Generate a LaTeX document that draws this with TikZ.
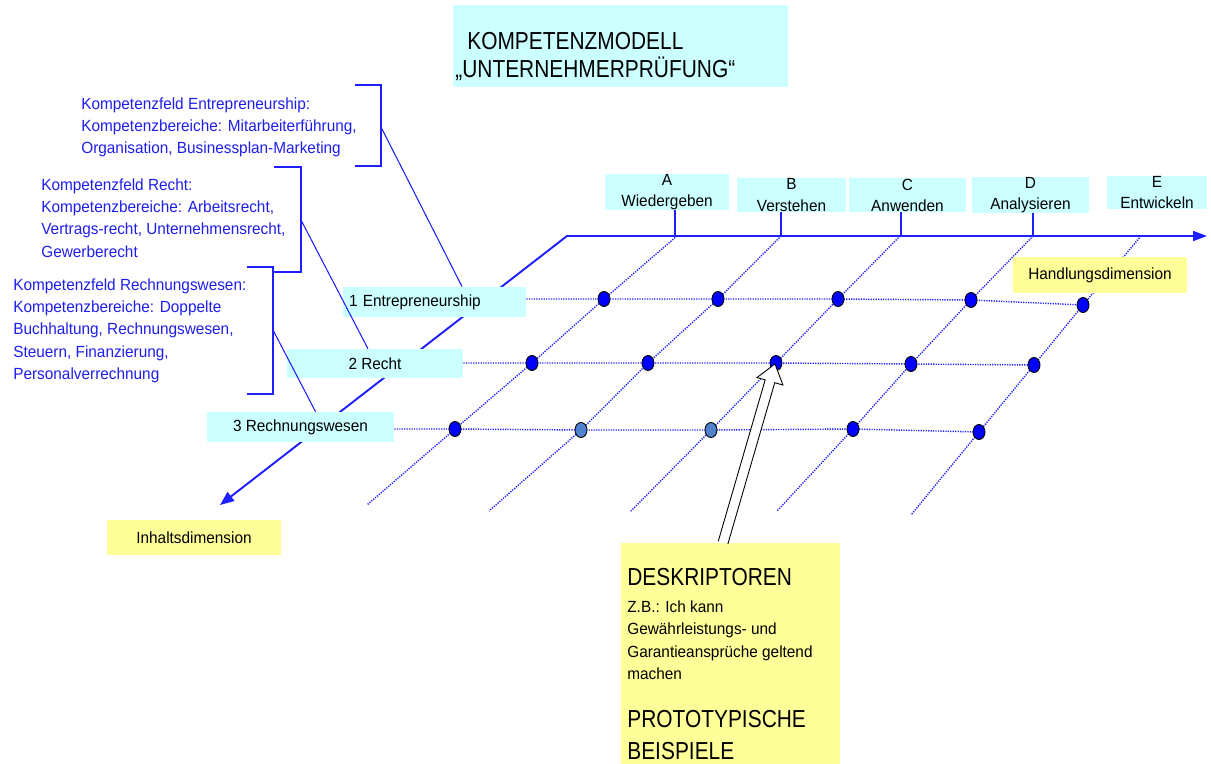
\documentclass[tikz,border=0pt]{standalone}
\usepackage{fontspec}
\setmainfont[FakeStretch=0.95]{Liberation Sans}
\newfontfamily\bigfont[FakeStretch=0.85]{Liberation Sans}
\usetikzlibrary{arrows.meta,calc,shapes.geometric}
\pgfdeclarelayer{bg}
\pgfsetlayers{bg,main}

\definecolor{boxcyan}{RGB}{204,255,255}
\definecolor{boxyellow}{RGB}{255,255,153}
\definecolor{lineblue}{RGB}{30,30,255}
\definecolor{dotlight}{RGB}{80,130,205}
\definecolor{textblue}{RGB}{30,30,235}

\begin{document}
\begin{tikzpicture}[x=0.02cm,y=-0.02cm,
  font=\fontsize{9.2}{12}\selectfont,
  cbox/.style={fill=boxcyan,inner sep=0pt,align=center},
  ybox/.style={fill=boxyellow,inner sep=0pt,align=center},
  dot/.style={ellipse,draw=black,line width=0.5pt,fill=blue,minimum width=0.24cm,minimum height=0.3cm,inner sep=0pt},
  grid/.style={lineblue,line width=0.8pt,dash pattern=on 0.7pt off 0.7pt},
  axis/.style={lineblue,line width=1.1pt},
  tick/.style={lineblue,line width=0.9pt},
  bracket/.style={lineblue,line width=0.9pt},
  link/.style={lineblue,line width=0.6pt},
  blocktext/.style={textblue,align=left,anchor=north west,inner sep=0pt,font=\fontsize{9.2}{12.7}\selectfont},
  bigtext/.style={anchor=north west,inner sep=0pt,align=left,font=\bigfont\fontsize{14}{15.9}\selectfont}]

  \useasboundingbox (0,0) rectangle (1211,764);

  \node[cbox,minimum width=6.7cm,minimum height=1.64cm] (title) at (620.5,46) {};
  \node[bigtext] (titletext) at (455,32) {\hspace*{0.24cm}KOMPETENZMODELL\\„UNTERNEHMERPRÜFUNG“};

  \node[cbox,minimum width=2.48cm,minimum height=0.6cm] (colA) at (667,192) {A\\Wiedergeben};
  \node[cbox,minimum width=2.18cm,minimum height=0.68cm] (colB) at (791.5,195) {B\\Verstehen};
  \node[cbox,minimum width=2.34cm,minimum height=0.68cm] (colC) at (907.5,195) {C\\Anwenden};
  \node[cbox,minimum width=2.34cm,minimum height=0.68cm] (colD) at (1030.5,195) {D\\Analysieren};
  \node[cbox,minimum width=2cm,minimum height=0.58cm] (colE) at (1157,192.5) {E\\Entwickeln};

  \node[cbox,minimum width=3.66cm,minimum height=0.6cm,text width=3.42cm,align=left] (row1) at (434.5,302) {1 Entrepreneurship};
  \node[cbox,minimum width=3.52cm,minimum height=0.58cm] (row2) at (375,363.5) {2 Recht};
  \node[cbox,minimum width=3.74cm,minimum height=0.6cm] (row3) at (300.5,427) {3 Rechnungswesen};

  \node[blocktext] (fieldE) at (81,97) {Kompetenzfeld Entrepreneurship:\\Kompetenzbereiche: Mitarbeiterführung,\\Organisation, Businessplan-Marketing};
  \node[blocktext] (fieldR) at (41,178) {Kompetenzfeld Recht:\\Kompetenzbereiche: Arbeitsrecht,\\Vertrags-recht, Unternehmensrecht,\\Gewerberecht};
  \node[blocktext] (fieldRW) at (13,278) {Kompetenzfeld Rechnungswesen:\\Kompetenzbereiche: Doppelte\\Buchhaltung, Rechnungswesen,\\Steuern, Finanzierung,\\Personalverrechnung};

  \draw[bracket] (355,85) -- (381,85) -- (381,166) -- (355,166);
  \draw[bracket] (274,167) -- (301,167) -- (301,272) -- (273,272);
  \draw[bracket] (247,267) -- (273,267) -- (273,394) -- (247,394);
  \coordinate (bE) at (381,127);
  \coordinate (bR) at (301,220);
  \coordinate (bRW) at (273,330);
  \draw[link] (bE) -- ($(row1.north west)!0.65!(row1.north east)$);
  \draw[link] (bR) -- ($(row2.north west)!0.46!(row2.north east)$);
  \draw[link] (bRW) -- ($(row3.north west)!0.58!(row3.north east)$);

  \node[dot] (dA1) at (604,299) {};
  \node[dot] (dB1) at (718,299) {};
  \node[dot] (dC1) at (838,299) {};
  \node[dot] (dD1) at (971,300) {};
  \node[dot] (dE1) at (1083,305) {};
  \node[dot] (dA2) at (532,363) {};
  \node[dot] (dB2) at (648,363) {};
  \node[dot] (dC2) at (776,363) {};
  \node[dot] (dD2) at (911,364) {};
  \node[dot] (dE2) at (1034,365) {};
  \node[dot] (dA3) at (455,429) {};
  \node[dot,fill=dotlight] (dB3) at (581,430) {};
  \node[dot,fill=dotlight] (dC3) at (711,430) {};
  \node[dot] (dD3) at (853,429) {};
  \node[dot] (dE3) at (979,432) {};

  \node[ybox,minimum width=3.48cm,minimum height=0.72cm] (hdim) at (1100,275) {Handlungsdimension};
  \node[ybox,minimum width=3.48cm,minimum height=0.7cm] (idim) at (194,537.5) {Inhaltsdimension};

  \node[ybox,minimum width=4.38cm,minimum height=4.42cm] (desk) at (730.5,653.5) {};
  \node[bigtext] (deskhead) at (627,568) {DESKRIPTOREN};
  \node[anchor=north west,inner sep=0pt,align=left,font=\fontsize{9.2}{12.8}\selectfont] (deskex) at (627,600) {Z.B.: Ich kann\\Gewährleistungs- und\\Garantieansprüche geltend\\machen};
  \node[bigtext,font=\bigfont\fontsize{14}{18.1}\selectfont] (deskproto) at (627,710) {PROTOTYPISCHE\\BEISPIELE};

  \coordinate (O) at (567,236);
  \coordinate (hEnd) at (1207,236);
  \coordinate (iEnd) at (220,505);
  \coordinate (topA) at (677,236);
  \coordinate (topB) at (781,236);
  \coordinate (topC) at (900,236);
  \coordinate (topD) at (1033,236);
  \coordinate (topE) at (1141,236);
  \coordinate (botA) at (367,505);
  \coordinate (botB) at (489,511);
  \coordinate (botC) at (630,512);
  \coordinate (botD) at (777,511);
  \coordinate (botE) at (911,515);
  \coordinate (tA) at (675,236);
  \coordinate (tB) at (781,236);
  \coordinate (tC) at (901,236);
  \coordinate (tD) at (1033,236);

  \begin{pgfonlayer}{bg}
    \draw[axis,{Triangle[length=0.28cm,width=0.22cm]}-{Triangle[length=0.28cm,width=0.2cm]}] (iEnd) -- (O) -- (hEnd);
    \foreach \c in {A,B,C,D}
      \draw[tick] (t\c) -- (t\c |- col\c.south);
    \foreach \c in {A,B,C,D,E}
      \draw[grid] (top\c) -- (d\c1.center) -- (d\c2.center) -- (d\c3.center) -- (bot\c);
    \foreach \r in {1,2,3}
      \draw[grid] (row\r.east |- dA\r) -- (dA\r.center) -- (dB\r.center) -- (dC\r.center) -- (dD\r.center) -- (dE\r.center);
  \end{pgfonlayer}

  \coordinate (tip) at ($(dC2.center)+(-1,1)$);
  \coordinate (tail) at ($(desk.north west)!0.466!(desk.north east)$);
  \coordinate (hb) at ($(tip)!0.36cm!(tail)$);
  \path[fill=white,draw=black,line width=0.5pt] ($(tail)!0.1cm!90:(tip)$) -- ($(hb)!0.1cm!90:(tip)$) -- ($(hb)!0.27cm!90:(tip)$) -- (tip) -- ($(hb)!0.27cm!-90:(tip)$) -- ($(hb)!0.1cm!-90:(tip)$) -- ($(tail)!0.1cm!-90:(tip)$);

\end{tikzpicture}
\end{document}
